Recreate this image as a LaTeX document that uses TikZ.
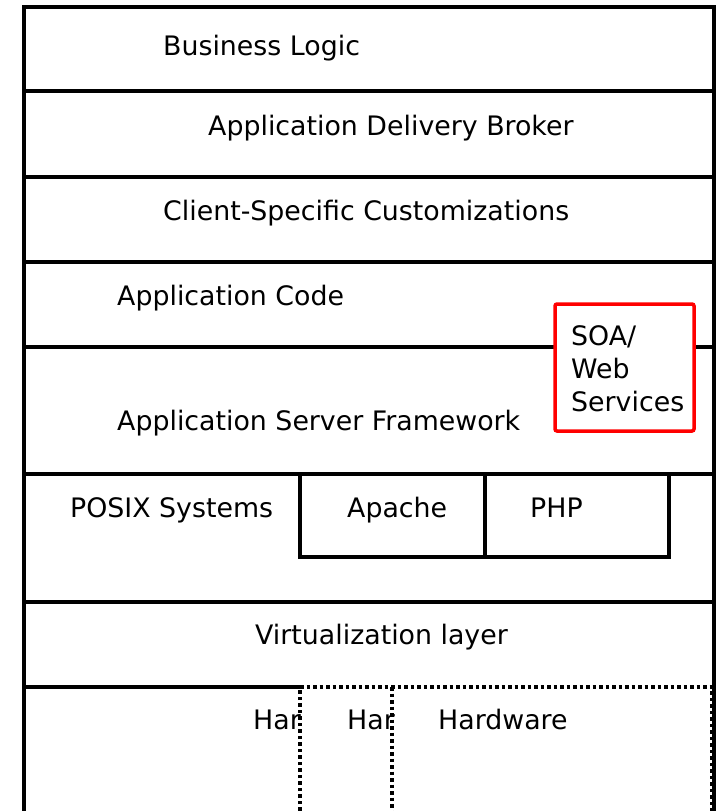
\documentclass[tikz,border=0pt]{standalone}
\usepackage{fontspec}
\setmainfont{DejaVu Sans}
\begin{document}
\begin{tikzpicture}[x=1pt,y=-1pt,
  layer/.style={draw=black,line width=3.5pt},
  hwdot/.style={draw=black,line width=3.5pt,dash pattern=on 3.5pt off 3pt},
  soabox/.style={draw=red,line width=3.5pt,rounded corners=2pt,fill=white},
  lbl/.style={anchor=base west,inner sep=0pt,font=\fontsize{26.8}{33}\selectfont}]
\useasboundingbox (0,0) rectangle (720,811);
\begin{scope}
\clip (0,0) rectangle (720,811);
% outer frame
\draw[layer] (24,830) -- (24,7) -- (714,7) -- (714,830);
% layer separators
\foreach \yy in {91,177,262,347,474,602}
  \draw[layer] (24,\yy) -- (714,\yy);
\draw[layer] (24,687) -- (300,687);
% Apache / PHP boxes
\draw[layer] (300,474) -- (300,557) -- (669,557) -- (669,474);
\draw[layer] (485,474) -- (485,557);
% hardware partitions
\draw[hwdot] (300,830) -- (300,687) -- (712,687) -- (712,830);
\draw[hwdot] (392,687) -- (392,830);
\end{scope}
% SOA / Web Services box
\draw[soabox] (555,304) rectangle (694,431);

\node[lbl] (biz) at (163,55) {Business Logic};
\node[lbl] (adb) at (208,135) {Application Delivery Broker};
\node[lbl] (csc) at (163,220) {Client-Specific Customizations};
\node[lbl] (acode) at (117,305) {Application Code};
\node[lbl] (asf) at (117,430) {Application Server Framework};
\node[lbl] (soa1) at (571,345) {SOA/};
\node[lbl] (soa2) at (571,378) {Web};
\node[lbl] (soa3) at (571,411) {Services};
\node[lbl] (posix) at (70,517) {POSIX Systems};
\node[lbl] (apache) at (347,517) {Apache};
\node[lbl] (php) at (530,517) {PHP};
\node[lbl] (virt) at (255,644) {Virtualization layer};
\node[lbl] (hw1) at (253,729) {Har};
\node[lbl] (hw2) at (347,729) {Har};
\node[lbl] (hw3) at (438,729) {Hardware};
\end{tikzpicture}
\end{document}
